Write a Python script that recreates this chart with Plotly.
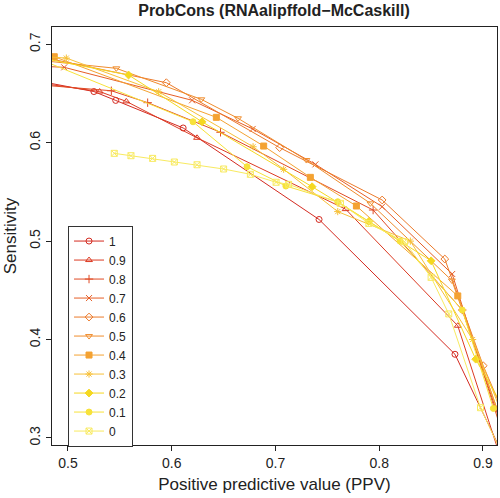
import plotly.graph_objects as go

series_names = ["1", "0.9", "0.8", "0.7", "0.6", "0.5", "0.4", "0.3", "0.2", "0.1", "0"]

ppv_1 = [0.47, 0.525, 0.546, 0.611, 0.742, 0.873, 0.925]
sens_1 = [0.663, 0.652, 0.643, 0.615, 0.522, 0.385, 0.27]

ppv_09 = [0.47, 0.5305, 0.5562, 0.6244, 0.7676, 0.8757, 0.92]
sens_09 = [0.661, 0.652, 0.642, 0.605, 0.5325, 0.414, 0.27]

ppv_08 = [0.47, 0.5418, 0.5768, 0.647, 0.7941, 0.88, 0.925]
sens_08 = [0.659, 0.6528, 0.6407, 0.6106, 0.5316, 0.43, 0.29]

ppv_07 = [0.47, 0.4964, 0.6196, 0.678, 0.7385, 0.8028, 0.8703, 0.92]
sens_07 = [0.678, 0.6766, 0.6431, 0.614, 0.578, 0.535, 0.4666, 0.30]

ppv_06 = [0.47, 0.5948, 0.704, 0.8028, 0.8632, 0.9002, 0.93]
sens_06 = [0.688, 0.661, 0.595, 0.5418, 0.4818, 0.3734, 0.30]

ppv_05 = [0.47, 0.5466, 0.6285, 0.6639, 0.7298, 0.7915, 0.87, 0.92]
sens_05 = [0.684, 0.6756, 0.6441, 0.6248, 0.5824, 0.5384, 0.46, 0.31]

ppv_04 = [0.47, 0.4868, 0.643, 0.6886, 0.7336, 0.778, 0.8757, 0.92]
sens_04 = [0.688, 0.6874, 0.6258, 0.5966, 0.5648, 0.5357, 0.4443, 0.31]

ppv_03 = [0.47, 0.4984, 0.5874, 0.6784, 0.7079, 0.76, 0.83, 0.89, 0.92]
sens_03 = [0.688, 0.686, 0.6518, 0.5959, 0.573, 0.53, 0.50, 0.40, 0.32]

ppv_02 = [0.47, 0.5584, 0.6292, 0.7353, 0.79, 0.85, 0.893, 0.92]
sens_02 = [0.687, 0.6688, 0.6213, 0.5553, 0.52, 0.48, 0.38, 0.33]

ppv_01 = [0.47, 0.6205, 0.6726, 0.71, 0.76, 0.82, 0.88, 0.91]
sens_01 = [0.686, 0.6213, 0.5756, 0.556, 0.54, 0.50, 0.43, 0.33]

ppv_0 = [0.5446, 0.5607, 0.5816, 0.6025, 0.6244, 0.65, 0.6758, 0.7006, 0.7127,
         0.7626, 0.79, 0.8243, 0.85, 0.867, 0.8976, 0.92]
sens_0 = [0.5892, 0.5868, 0.5841, 0.5804, 0.5776, 0.5733, 0.5679, 0.5598, 0.5577,
          0.5384, 0.518, 0.4994, 0.4632, 0.426, 0.3307, 0.28]

x_ticks = [0.5, 0.6, 0.7, 0.8, 0.9]
y_ticks = [0.3, 0.4, 0.5, 0.6, 0.7]

all_x = [ppv_1, ppv_09, ppv_08, ppv_07, ppv_06, ppv_05, ppv_04, ppv_03, ppv_02, ppv_01, ppv_0]
all_y = [sens_1, sens_09, sens_08, sens_07, sens_06, sens_05, sens_04, sens_03, sens_02, sens_01, sens_0]

colors = ["#D42A20", "#DC3A22", "#E04A24", "#E65E26", "#EC7A2A", "#F08C2C",
          "#F4A232", "#F7C038", "#F5D820", "#F7E23A", "#F8EA60"]
symbols = ["circle-open", "triangle-up-open", "cross-thin-open", "x-thin-open",
           "diamond-open", "triangle-down-open", "square", "asterisk-open",
           "diamond", "circle", "square-x-open"]

fig = go.Figure()
for name, xs, ys, c, s in zip(series_names, all_x, all_y, colors, symbols):
    fig.add_trace(go.Scatter(
        x=xs, y=ys, name=name, mode="lines+markers",
        line=dict(color=c, width=1),
        marker=dict(symbol=s, size=6, color=c, line=dict(color=c, width=1)),
    ))

fig.update_layout(
    width=500, height=498,
    margin=dict(l=52, r=3, t=27, b=53, autoexpand=False),
    paper_bgcolor="white", plot_bgcolor="white",
    font=dict(family="Liberation Sans, Arial, sans-serif", size=14, color="#222"),
    title=dict(text="<b>ProbCons (RNAalipffold\u2212McCaskill)</b>", x=0.548, xref="container",
               xanchor="center", y=0.99, yanchor="top", font=dict(size=16, color="#222")),
    showlegend=True,
    legend=dict(x=0.036, y=0.525, xanchor="left", yanchor="top",
                bordercolor="#333", borderwidth=1, bgcolor="white",
                font=dict(size=12), tracegroupgap=0, itemwidth=30),
    xaxis=dict(range=[0.4846, 0.9135], tickvals=x_ticks, ticktext=[str(v) for v in x_ticks],
               showgrid=False, zeroline=False, showline=True, mirror=True,
               linecolor="#222", linewidth=1, ticks="outside", ticklen=5, tickcolor="#222",
               title=dict(text="Positive predictive value (PPV)", standoff=8)),
    yaxis=dict(range=[0.2928, 0.7176], tickvals=y_ticks, ticktext=[str(v) for v in y_ticks],
               tickangle=-90,
               showgrid=False, zeroline=False, showline=True, mirror=True,
               linecolor="#222", linewidth=1, ticks="outside", ticklen=5, tickcolor="#222",
               title=dict(text="Sensitivity", standoff=6)),
)

fig.write_html("out.html", config={"displayModeBar": False},
               post_script="document.body.style.margin='0px';document.body.style.overflow='hidden';")
